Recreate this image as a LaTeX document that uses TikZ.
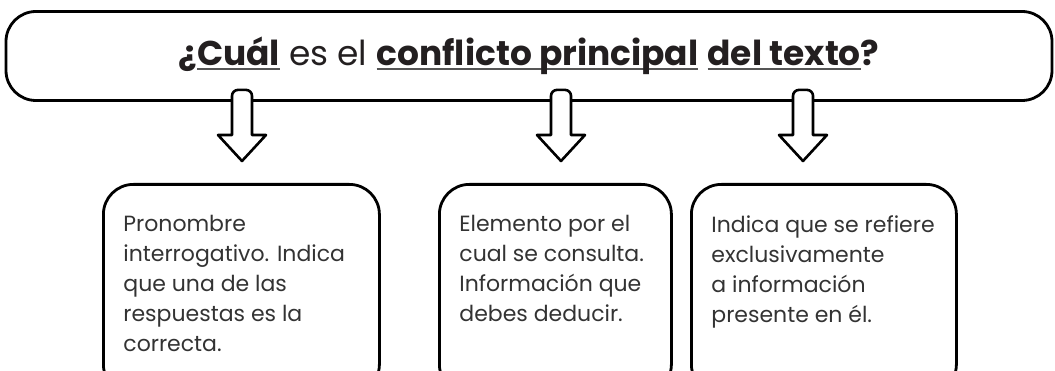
\documentclass[tikz,border=0pt]{standalone}
\usepackage{fontspec}
\setmainfont{Poppins}
\usetikzlibrary{calc}

\definecolor{inkgray}{HTML}{333333}
\definecolor{titleink}{HTML}{231F20}
\definecolor{ulgray}{HTML}{555555}

% underline sitting just under the baseline
\newcommand\undl[1]{\leavevmode\setbox0\hbox{#1}\rlap{\color{ulgray}\rule[-4pt]{\wd0}{1.8pt}}\box0}

\tikzset{
	banner/.style={draw, line width=2.8pt, rounded corners=30pt, text=titleink},
	infobox/.style={draw, line width=2.8pt, rounded corners=30pt, anchor=north west,
		inner xsep=20pt, inner ysep=31pt, text=inkgray, font=\fontsize{22}{30}\selectfont},
	blockarrow/.style={draw, fill=white, line width=2.6pt, line join=round}
}

\begin{document}
\begin{tikzpicture}[x=1pt,y=-1pt]
\useasboundingbox (0,0) rectangle (1055,371);
\clip (0,0) rectangle (1055,371);

\node[banner, minimum width=1046pt, minimum height=89pt] (question) at (529,56)
	{\fontsize{34.4}{40}\selectfont\textbf{¿\undl{Cuál}} es el \textbf{\undl{conflicto principal}} \textbf{\undl{del texto}?}};

\node[infobox] (pronoun) at (102,183)
	{\parbox[t][148pt][t]{236pt}{Pronombre\\ interrogativo. Indica\\ que una de las\\ respuestas es la\\ correcta.}};
\node[infobox] (element) at (438,183)
	{\parbox[t][148pt][t]{192pt}{Elemento por el\\ cual se consulta.\\ Información que\\ debes deducir.}};
\node[infobox] (scope) at (690,183)
	{\parbox[t][148pt][t]{225pt}{Indica que se refiere\\ exclusivamente\\ a información\\ presente en él.}};

% block arrows from the question down to each box
\foreach \ax/\boxname in {242/pronoun,561/element,803/scope}
	\draw[blockarrow] let \p1=(question.south), \p2=(\boxname.north) in
		(\ax pt-10pt,\y2+48pt) [rounded corners=6pt] -- (\ax pt-10pt,\y1+12pt)
		-- (\ax pt+10pt,\y1+12pt) [sharp corners] -- (\ax pt+10pt,\y2+48pt)
		-- (\ax pt+24pt,\y2+48pt) -- (\ax pt,\y2+22pt) -- (\ax pt-24pt,\y2+48pt) -- cycle;
\end{tikzpicture}
\end{document}
